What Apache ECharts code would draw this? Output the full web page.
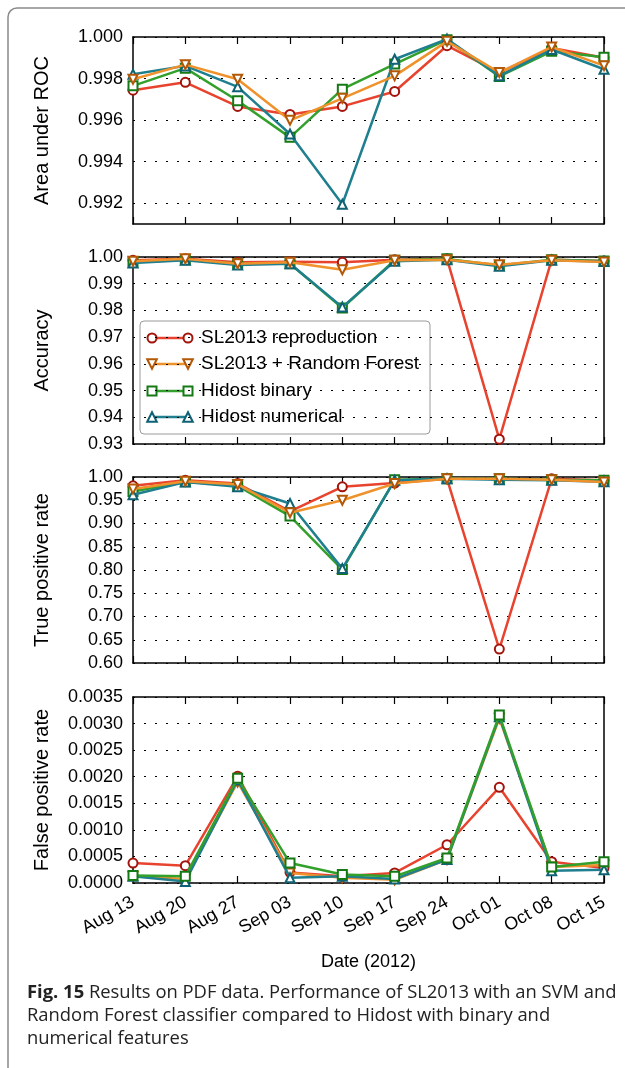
<!DOCTYPE html>
<html><head><meta charset="utf-8">
<script src="https://cdn.jsdelivr.net/npm/echarts@6/dist/echarts.min.js"></script>
<style>html,body{margin:0;padding:0;background:#fff}#c{width:625px;height:1068px}</style>
</head><body><div id="c"></div>
<script>
// ---- data ----
const dates = ['Aug 13','Aug 20','Aug 27','Sep 03','Sep 10','Sep 17','Sep 24','Oct 01','Oct 08','Oct 15'];
const seriesNames = ['SL2013 reproduction','SL2013 + Random Forest','Hidost binary','Hidost numerical'];
const yTitles = ['Area under ROC','Accuracy','True positive rate','False positive rate'];
const xTitle = 'Date (2012)';

const aucRepro = [0.99744,0.99782,0.99666,0.99627,0.99666,0.99738,0.99958,0.99829,0.99947,0.99900];
const aucRF    = [0.99797,0.99867,0.99797,0.99599,0.99705,0.99813,0.99979,0.99829,0.99952,0.99862];
const aucBin   = [0.99765,0.99850,0.99693,0.99517,0.99749,0.99870,0.99987,0.99810,0.99931,0.99902];
const aucNum   = [0.99821,0.99861,0.99760,0.99533,0.99195,0.99893,0.99990,0.99813,0.99940,0.99845];

const accRepro = [0.99875,0.9993,0.9980,0.99825,0.9980,0.9990,0.9993,0.9318,0.9990,0.9985];
const accRF    = [0.9984,0.9993,0.9975,0.9980,0.99525,0.9988,0.9990,0.9971,0.9988,0.9981];
const accBin   = [0.9980,0.9990,0.9975,0.9975,0.9809,0.9988,0.9993,0.9968,0.9990,0.9985];
const accNum   = [0.99775,0.99875,0.9970,0.9975,0.98125,0.9984,0.9990,0.9965,0.9988,0.9983];

const tprRepro = [0.981,0.993,0.986,0.926,0.979,0.987,0.996,0.630,0.996,0.993];
const tprRF    = [0.974,0.991,0.984,0.923,0.950,0.986,0.996,0.996,0.994,0.989];
const tprBin   = [0.969,0.990,0.981,0.916,0.801,0.994,0.996,0.996,0.994,0.993];
const tprNum   = [0.962,0.989,0.979,0.943,0.803,0.993,0.996,0.994,0.993,0.990];

const fprRepro = [0.000375,0.000325,0.00201,0.00020,0.000125,0.00019,0.00072,0.00180,0.00040,0.00028];
const fprRF    = [0.000125,0.000075,0.00190,0.00019,0.00010,0.00006,0.00044,0.00310,0.00030,0.00034];
const fprBin   = [0.00014,0.000125,0.00197,0.000375,0.00016,0.000125,0.00047,0.00316,0.00030,0.00040];
const fprNum   = [0.000125,0.00003,0.00194,0.00010,0.000125,0.000075,0.00044,0.00313,0.00023,0.00025];

const aucTicks = [0.992,0.994,0.996,0.998,1.000];
const accTicks = [0.93,0.94,0.95,0.96,0.97,0.98,0.99,1.00];
const tprTicks = [0.60,0.65,0.70,0.75,0.80,0.85,0.90,0.95,1.00];
const fprTicks = [0,0.0005,0.0010,0.0015,0.0020,0.0025,0.0030,0.0035];

// ---- styling ----
const lineColors = ['#e8432e','#f0922c','#33a02c','#1f7f8f'];
const markColors = ['#a3140c','#b35806','#157a15','#0f6273'];
const symbols = ['circle','triangle','rect','triangle'];
const symRot = [0,180,0,0];
const FONT = 'Liberation Sans';

const panels = [
  {data:[aucRepro,aucRF,aucBin,aucNum], min:0.991, max:1.0, ticks:aucTicks, digits:3, order:[0,2,3,1]},
  {data:[accRepro,accRF,accBin,accNum], min:0.93, max:1.0, ticks:accTicks, digits:2, order:[0,2,3,1]},
  {data:[tprRepro,tprRF,tprBin,tprNum], min:0.60, max:1.0, ticks:tprTicks, digits:2, order:[0,2,3,1]},
  {data:[fprRepro,fprRF,fprBin,fprNum], min:0, max:0.0035, ticks:fprTicks, digits:4, order:[0,1,3,2]}
];
const gridTops = [37,257,477,697];
const gridHeights = [187,187,186,186];

const grids=[], xAxes=[], yAxes=[], series=[];
panels.forEach((p,i)=>{
  grids.push({left:133, width:471, top:gridTops[i], height:gridHeights[i]});
  const axLine = {show:true, onZero:false, lineStyle:{color:'#000', width:1.5}};
  xAxes.push({
    type:'category', gridIndex:i, data:dates, boundaryGap:false, position:'bottom',
    axisLine:axLine, axisTick:{inside:true, length:7, lineStyle:{color:'#000',width:1.2}},
    axisLabel: i===3 ? {show:true, interval:0, rotate:30, margin:18, fontSize:18, color:'#000', fontFamily:FONT} : {show:false},
    splitLine:{show:false},
    name: i===3 ? xTitle : '', nameLocation:'middle', nameGap:70,
    nameTextStyle:{fontSize:18, color:'#000', fontFamily:FONT}
  });
  xAxes.push({
    type:'category', gridIndex:i, data:dates, boundaryGap:false, position:'top',
    axisLine:axLine, axisTick:{inside:true, length:7, lineStyle:{color:'#000',width:1.2}},
    axisLabel:{show:false}, splitLine:{show:false}
  });
  yAxes.push({
    type:'value', gridIndex:i, min:p.min, max:p.max, position:'left',
    axisLine:axLine,
    axisTick:{inside:true, length:6, customValues:p.ticks, lineStyle:{color:'#000',width:1.2}},
    axisLabel:{customValues:p.ticks, formatter:v=>Number(v).toFixed(p.digits), margin:10, fontSize:18, color:'#000', fontFamily:FONT},
    splitLine:{show:true, lineStyle:{color:'#000', width:1.2, type:[2,9]}},
    name:yTitles[i], nameLocation:'middle', nameGap:81,
    nameTextStyle:{fontSize:20, color:'#000', fontFamily:FONT}
  });
  yAxes.push({
    type:'value', gridIndex:i, min:p.min, max:p.max, position:'right',
    axisLine:axLine,
    axisTick:{inside:true, length:6, customValues:p.ticks, lineStyle:{color:'#000',width:1.2}},
    axisLabel:{show:false}, splitLine:{show:false}
  });
  p.order.forEach((k,zi)=>{
    series.push({
      type:'line', name:seriesNames[k], xAxisIndex:2*i, yAxisIndex:2*i,
      data:p.data[k], symbol:symbols[k], symbolRotate:symRot[k], symbolSize:9, showAllSymbol:true,
      lineStyle:{color:lineColors[k], width:2.5},
      itemStyle:{color:'#fff', borderColor:markColors[k], borderWidth:2},
      z:2+zi, animation:false, emphasis:{disabled:true}
    });
  });
});

// ---- legend (drawn as graphic inside panel 2) ----
const legendEls = [{type:'rect', shape:{x:140,y:321,width:290,height:113,r:4},
  style:{fill:'rgba(255,255,255,0)', stroke:'#9a9a9a', lineWidth:1}}];
const legRows = [338,364,391,417];
function sym(k,cx,cy){
  const st = {fill:'#fff', stroke:markColors[k], lineWidth:2};
  if(symbols[k]==='circle') return {type:'circle', shape:{cx,cy,r:4.5}, style:st};
  if(symbols[k]==='rect') return {type:'rect', shape:{x:cx-4.5,y:cy-4.5,width:9,height:9}, style:st};
  const h=4.8;
  if(symRot[k]===180) return {type:'polygon', shape:{points:[[cx-h,cy-h],[cx+h,cy-h],[cx,cy+h]]}, style:st};
  return {type:'polygon', shape:{points:[[cx-h,cy+h],[cx+h,cy+h],[cx,cy-h]]}, style:st};
}
seriesNames.forEach((n,k)=>{
  const y = legRows[k];
  legendEls.push({type:'line', shape:{x1:152,y1:y,x2:188,y2:y}, style:{stroke:lineColors[k], lineWidth:2.5}});
  legendEls.push(sym(k,152,y)); legendEls.push(sym(k,188,y));
  legendEls.push({type:'text', x:201, y:y, style:{text:n, fontSize:19, fontFamily:FONT, fill:'#000', verticalAlign:'middle'}});
});

const chart = echarts.init(document.getElementById('c'), null, {renderer:'canvas'});
chart.setOption({
  animation:false,
  backgroundColor:'#fff',
  grid:grids, xAxis:xAxes, yAxis:yAxes, series:series,
  graphic:[
    {type:'rect', z:100, shape:{x:8,y:8,width:700,height:1200,r:9}, style:{fill:'none', stroke:'#8a8a8a', lineWidth:1.5}},
    {type:'group', z:100, children:legendEls},
    {type:'text', z:100, x:27, y:981, style:{
      text:'{b|Fig. 15} Results on PDF data. Performance of SL2013 with an SVM and\nRandom Forest classifier compared to Hidost with binary and\nnumerical features',
      fontSize:18.4, fontFamily:'Open Sans', fill:'#222', lineHeight:23,
      rich:{b:{fontWeight:'bold', fontSize:18.4, fontFamily:'Open Sans', fill:'#222', lineHeight:23}}
    }}
  ]
});
</script></body></html>
